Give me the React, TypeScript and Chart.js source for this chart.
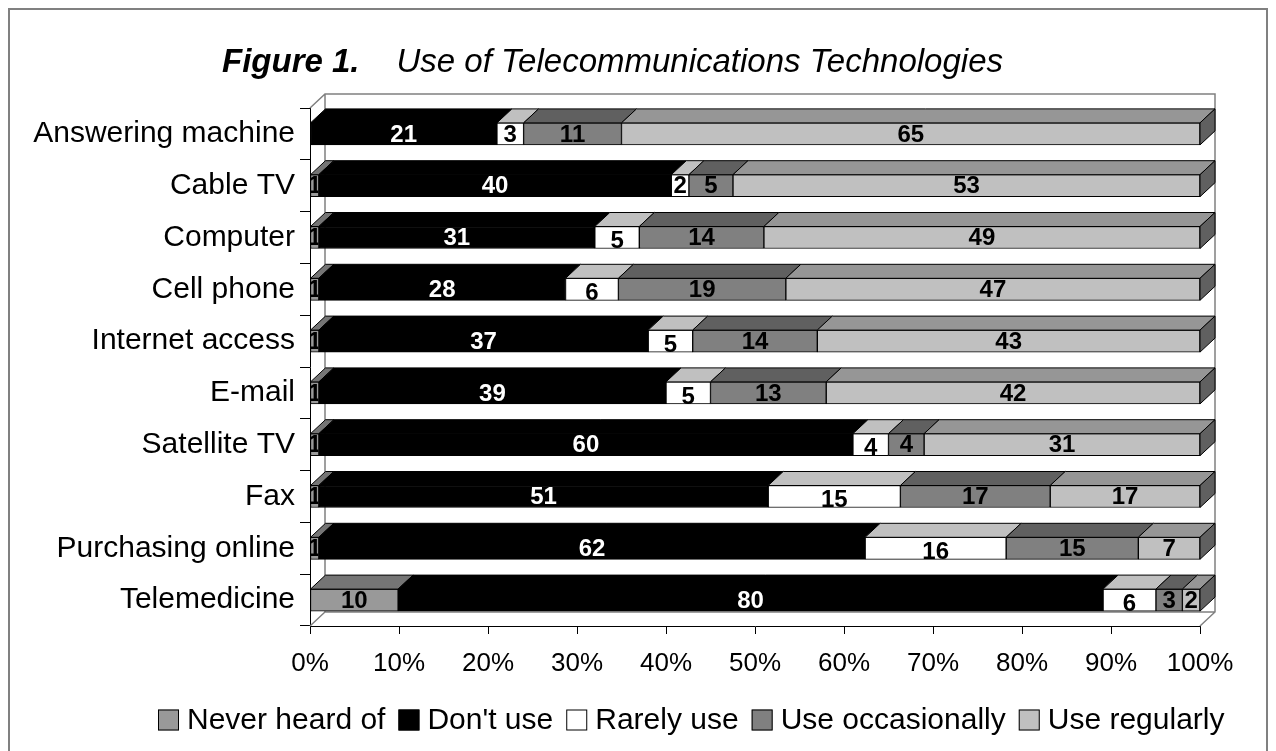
import { useEffect, useRef } from 'react';
import { Chart, registerables } from 'chart.js';

Chart.register(...registerables);

const categories = [
  'Answering machine',
  'Cable TV',
  'Computer',
  'Cell phone',
  'Internet access',
  'E-mail',
  'Satellite TV',
  'Fax',
  'Purchasing online',
  'Telemedicine',
];
const neverHeardOf = [0, 1, 1, 1, 1, 1, 1, 1, 1, 10];
const dontUse = [21, 40, 31, 28, 37, 39, 60, 51, 62, 80];
const rarelyUse = [3, 2, 5, 6, 5, 5, 4, 15, 16, 6];
const useOccasionally = [11, 5, 14, 19, 14, 13, 4, 17, 15, 3];
const useRegularly = [65, 53, 49, 47, 43, 42, 31, 17, 7, 2];
const seriesNames = ['Never heard of', "Don't use", 'Rarely use', 'Use occasionally', 'Use regularly'];
const series = [neverHeardOf, dontUse, rarelyUse, useOccasionally, useRegularly];

const frontColors = ['#999999', '#000000', '#ffffff', '#808080', '#c0c0c0'];
const topColors = ['#757575', '#000000', '#c0c0c0', '#606060', '#969696'];
const sideColors = ['#5c5c5c', '#000000', '#8c8c8c', '#4d4d4d', '#606060'];
const labelColors = ['#000000', '#ffffff', '#000000', '#000000', '#000000'];

const FONT = '"Liberation Sans", Arial, Helvetica, sans-serif';
const DX = 15;
const DY = 14;

const threeD = {
  id: 'threeD',
  beforeDatasetsDraw(chart: any) {
    const { ctx, chartArea: a } = chart;
    ctx.save();
    ctx.strokeStyle = '#808080';
    ctx.lineWidth = 1.5;
    ctx.beginPath();
    ctx.moveTo(a.left, a.top);
    ctx.lineTo(a.left + DX, a.top - DY);
    ctx.lineTo(a.right + DX, a.top - DY);
    ctx.lineTo(a.right + DX, a.bottom - DY);
    ctx.lineTo(a.right, a.bottom);
    ctx.moveTo(a.left + DX, a.top - DY);
    ctx.lineTo(a.left + DX, a.bottom - DY);
    ctx.lineTo(a.left, a.bottom);
    ctx.moveTo(a.left + DX, a.bottom - DY);
    ctx.lineTo(a.right + DX, a.bottom - DY);
    ctx.stroke();
    ctx.restore();
  },
  afterDatasetsDraw(chart: any) {
    const { ctx } = chart;
    ctx.save();
    ctx.lineWidth = 1;
    ctx.strokeStyle = '#000000';
    categories.forEach((_, i) => {
      let lastK = -1;
      series.forEach((arr, k) => {
        if (arr[i] > 0) lastK = k;
      });
      series.forEach((arr, k) => {
        if (!(arr[i] > 0)) return;
        const el = chart.getDatasetMeta(k).data[i];
        const p = el.getProps(['x', 'y', 'base', 'height'], true);
        const x0 = Math.min(p.x, p.base);
        const x1 = Math.max(p.x, p.base);
        const t = p.y - p.height / 2;
        const b = p.y + p.height / 2;
        ctx.beginPath();
        ctx.moveTo(x0, t);
        ctx.lineTo(x0 + DX, t - DY);
        ctx.lineTo(x1 + DX, t - DY);
        ctx.lineTo(x1, t);
        ctx.closePath();
        ctx.fillStyle = topColors[k];
        ctx.fill();
        ctx.stroke();
        if (k === lastK) {
          ctx.beginPath();
          ctx.moveTo(x1, t);
          ctx.lineTo(x1 + DX, t - DY);
          ctx.lineTo(x1 + DX, b - DY);
          ctx.lineTo(x1, b);
          ctx.closePath();
          ctx.fillStyle = sideColors[k];
          ctx.fill();
          ctx.stroke();
        }
        // value label, clipped to its segment
        ctx.save();
        ctx.beginPath();
        ctx.rect(x0 + 0.5, t, x1 - x0 - 1, b - t);
        ctx.clip();
        ctx.font = `bold 24px ${FONT}`;
        ctx.fillStyle = labelColors[k];
        ctx.textAlign = 'center';
        ctx.textBaseline = 'middle';
        const off = k === 2 && arr[i] >= 4 ? 3 : 0;
        ctx.fillText(String(arr[i]), (x0 + x1) / 2, p.y + 1 + off);
        ctx.restore();
      });
    });
    ctx.restore();
  },
  afterDraw(chart: any) {
    const { ctx } = chart;
    ctx.save();
    // title
    ctx.fillStyle = '#000000';
    ctx.textBaseline = 'alphabetic';
    ctx.textAlign = 'left';
    ctx.font = `italic bold 33px ${FONT}`;
    ctx.fillText('Figure 1.', 212, 62);
    ctx.font = `italic 33px ${FONT}`;
    ctx.textAlign = 'right';
    ctx.fillText('Use of Telecommunications Technologies', 993, 62);
    // legend
    ctx.textAlign = 'left';
    ctx.font = `30px ${FONT}`;
    ctx.textBaseline = 'middle';
    let x = 148;
    const cy = 710;
    const box = 21;
    seriesNames.forEach((name, k) => {
      ctx.fillStyle = frontColors[k];
      ctx.fillRect(x, cy - box / 2, box, box);
      ctx.strokeStyle = '#000000';
      ctx.lineWidth = 1;
      ctx.strokeRect(x + 0.5, cy - box / 2 + 0.5, box - 1, box - 1);
      x += box + 8;
      ctx.fillStyle = '#000000';
      ctx.fillText(name, x, cy + 1);
      x += ctx.measureText(name).width + 13;
    });
    ctx.restore();
  },
};

export default function App() {
  const ref = useRef<HTMLCanvasElement>(null);
  useEffect(() => {
    const canvas = ref.current!;
    const totals = categories.map((_, i) => series.reduce((s, arr) => s + arr[i], 0));
    const datasets = series.map((arr, k) => ({
      label: seriesNames[k],
      data: arr.map((v, i) => (v === 0 ? null : (v / totals[i]) * 100)),
      backgroundColor: frontColors[k],
      borderColor: '#000000',
      borderWidth: 1,
      borderSkipped: false,
      barThickness: 22,
    }));
    const chart = new Chart(canvas, {
      type: 'bar',
      data: { labels: categories, datasets: datasets as any },
      options: {
        indexAxis: 'y',
        responsive: false,
        animation: false,
        layout: { padding: { top: 98, right: 66, left: 0, bottom: 0 } },
        plugins: {
          legend: { display: false },
          title: { display: false },
          tooltip: { enabled: false },
        },
        scales: {
          x: {
            stacked: true,
            min: 0,
            max: 100,
            ticks: {
              stepSize: 10,
              color: '#000000',
              font: { family: FONT, size: 26 },
              padding: 14,
              callback: (v: any) => `${v}%`,
            },
            grid: { drawOnChartArea: false, tickLength: 8, color: '#000000' },
            border: { color: '#000000' },
            afterFit: (s: any) => {
              s.height = 125;
            },
          },
          y: {
            stacked: true,
            ticks: { color: '#000000', font: { family: FONT, size: 30 }, padding: 5 },
            grid: { drawOnChartArea: false, tickLength: 10, color: '#000000', offset: true },
            border: { color: '#000000' },
            afterFit: (s: any) => {
              s.width = 300;
            },
          },
        },
      } as any,
      plugins: [threeD],
    });
    return () => chart.destroy();
  }, []);
  return (
    <div
      style={{
        position: 'fixed',
        left: 8,
        top: 8,
        borderTop: '2px solid #808080',
        borderLeft: '2px solid #808080',
        borderRight: '2px solid #808080',
        background: '#ffffff',
        width: 1256,
        height: 741,
        overflow: 'hidden',
      }}
    >
      <canvas ref={ref} width={1256} height={741} style={{ display: 'block' }} />
    </div>
  );
}
